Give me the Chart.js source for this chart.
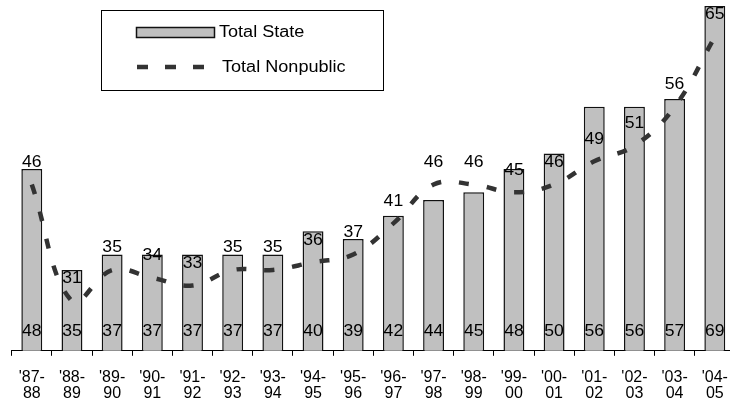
<!DOCTYPE html>
<html>
<head>
<meta charset="utf-8">
<script src="https://cdn.jsdelivr.net/npm/chart.js@4.4.1/dist/chart.umd.min.js"></script>
<style>
    html, body { margin: 0; padding: 0; background: #fff; overflow: hidden; }
    #wrap { width: 742px; height: 402px; }
</style>
</head>
<body>
<div id="wrap"><canvas id="chart" width="742" height="402"></canvas></div>
<script>
// school years, shown on two lines
const years = [
    ["'87-", "88"], ["'88-", "89"], ["'89-", "90"], ["'90-", "91"], ["'91-", "92"],
    ["'92-", "93"], ["'93-", "94"], ["'94-", "95"], ["'95-", "96"], ["'96-", "97"],
    ["'97-", "98"], ["'98-", "99"], ["'99-", "00"], ["'00-", "01"], ["'01-", "02"],
    ["'02-", "03"], ["'03-", "04"], ["'04-", "05"]
];
const totalState = [48, 35, 37, 37, 37, 37, 37, 40, 39, 42, 44, 45, 48, 50, 56, 56, 57, 69];
const totalNonpublic = [46, 31, 35, 34, 33, 35, 35, 36, 37, 41, 46, 46, 45, 46, 49, 51, 56, 65];

const FONT = "'Liberation Sans', Arial, sans-serif";

function stretchedText(ctx, text, x, y, sx) {
    ctx.save();
    ctx.translate(x, y);
    ctx.scale(sx, 1);
    ctx.fillText(text, 0, 0);
    ctx.restore();
}

const labelsPlugin = {
    id: "labelsPlugin",
    afterDatasetsDraw(chart) {
        const ctx = chart.ctx;
        const area = chart.chartArea;
        ctx.save();
        ctx.fillStyle = "#000";
        ctx.font = "16px " + FONT;
        ctx.textAlign = "center";
        ctx.textBaseline = "middle";

        // bar values at the foot of each bar
        chart.getDatasetMeta(0).data.forEach((el, i) => {
            stretchedText(ctx, String(totalState[i]), el.x, area.bottom - 19, 1.1);
        });
        // line values above each point
        chart.getDatasetMeta(1).data.forEach((el, i) => {
            stretchedText(ctx, String(totalNonpublic[i]), el.x, el.y - 22, 1.1);
        });
        ctx.restore();
    },
    afterDraw(chart) {
        const ctx = chart.ctx;
        ctx.save();
        // legend frame
        ctx.strokeStyle = "#000";
        ctx.lineWidth = 1;
        ctx.fillStyle = "#fff";
        ctx.fillRect(101.5, 10.5, 282, 80);
        ctx.strokeRect(101.5, 10.5, 282, 80);

        // bar swatch
        ctx.fillStyle = "#c0c0c0";
        ctx.fillRect(136.5, 27.5, 78, 10);
        ctx.lineWidth = 1.5;
        ctx.strokeStyle = "#111";
        ctx.strokeRect(136.5, 27.5, 78, 10);

        // dashed swatch
        ctx.strokeStyle = "#333";
        ctx.lineWidth = 4.5;
        ctx.setLineDash([11, 17]);
        ctx.beginPath();
        ctx.moveTo(137, 67);
        ctx.lineTo(205, 67);
        ctx.stroke();
        ctx.setLineDash([]);

        ctx.fillStyle = "#000";
        ctx.font = "16px " + FONT;
        ctx.textAlign = "left";
        ctx.textBaseline = "middle";
        stretchedText(ctx, "Total State", 219, 33, 1.13);
        stretchedText(ctx, "Total Nonpublic", 222, 68, 1.13);
        ctx.restore();
    }
};

new Chart(document.getElementById("chart"), {
    type: "bar",
    data: {
        labels: years,
        datasets: [{
            label: "Total State",
            data: totalState,
            backgroundColor: "#c0c0c0",
            borderColor: "#111",
            borderWidth: 1.5,
            barPercentage: 0.52,
            categoryPercentage: 1,
            order: 1
        }, {
            type: "line",
            label: "Total Nonpublic",
            data: totalNonpublic,
            borderColor: "#333",
            borderWidth: 4.5,
            borderDash: [10, 18],
            borderCapStyle: "butt",
            tension: 0.4,
            pointRadius: 0,
            fill: false,
            order: 0
        }]
    },
    options: {
        responsive: false,
        animation: false,
        devicePixelRatio: 1,
        layout: { padding: { left: 11.7, right: 4, top: 2, bottom: -13.8 } },
        plugins: {
            legend: { display: false },
            tooltip: { enabled: false }
        },
        scales: {
            x: {
                offset: true,
                grid: {
                    display: true,
                    offset: true,
                    drawOnChartArea: false,
                    drawTicks: true,
                    tickLength: 5,
                    color: "#000"
                },
                border: { display: true, color: "#000", width: 1 },
                ticks: {
                    color: "#000",
                    autoSkip: false,
                    maxRotation: 0,
                    padding: 14,
                    font: { family: FONT, size: 16, lineHeight: 1 }
                }
            },
            y: {
                display: false,
                min: 24.6,
                max: 69.5
            }
        }
    },
    plugins: [labelsPlugin]
});
</script>
</body>
</html>
